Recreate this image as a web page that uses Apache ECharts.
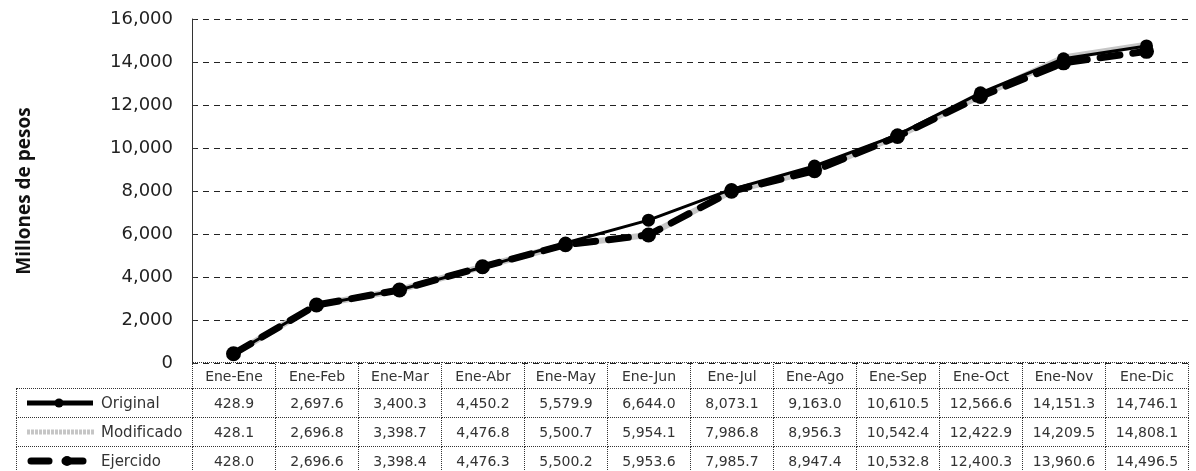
<!DOCTYPE html>
<html lang="es">
  <head>
    <meta charset="utf-8">
    <title>Millones de pesos</title>
    <script src="https://cdn.jsdelivr.net/npm/echarts@6/dist/echarts.min.js"></script>
    <style>
      body { margin: 0; background: #fff; }
      #wrap { position: relative; width: 1196px; height: 471px; overflow: hidden; }
      #chart { position: absolute; left: 0; top: 0; width: 1196px; height: 471px; }
      #tabla { position: absolute; left: 16px; top: 362px; border-collapse: collapse; table-layout: fixed;
               font-family: "DejaVu Sans", sans-serif; font-size: 14px; color: #333; }
      #tabla td { border: 1px dotted #333; text-align: center; padding: 0; white-space: nowrap; overflow: hidden; }
      #tabla tr.head td { height: 25px; }
      #tabla tr.fila td { height: 28px; }
      #tabla td.vacio { border: none; }
      #tabla td.serie { text-align: left; position: relative; font-size: 15px; padding-left: 84px; }
      #tabla td.serie svg { position: absolute; left: 4px; top: 8px; }
    </style>
  </head>
  <body>
    <div id="wrap">
      <div id="chart"></div>
      <table id="tabla"></table>
    </div>

    <script>
        var categorias = ['Ene-Ene', 'Ene-Feb', 'Ene-Mar', 'Ene-Abr', 'Ene-May', 'Ene-Jun',
                          'Ene-Jul', 'Ene-Ago', 'Ene-Sep', 'Ene-Oct', 'Ene-Nov', 'Ene-Dic'];
        var original   = [428.9, 2697.6, 3400.3, 4450.2, 5579.9, 6644.0, 8073.1, 9163.0, 10610.5, 12566.6, 14151.3, 14746.1];
        var modificado = [428.1, 2696.8, 3398.7, 4476.8, 5500.7, 5954.1, 7986.8, 8956.3, 10542.4, 12422.9, 14209.5, 14808.1];
        var ejercido   = [428.0, 2696.6, 3398.4, 4476.3, 5500.2, 5953.6, 7985.7, 8947.4, 10532.8, 12400.3, 13960.6, 14496.5];

        var left = 192, right = 8, colW = (1196 - left - right) / categorias.length;

        var chart = echarts.init(document.getElementById('chart'), null, {renderer: 'canvas'});
        chart.setOption({
            animation: false,
            grid: {left: left, right: right, top: 19, bottom: 108},
            xAxis: {
                type: 'category',
                data: categorias,
                boundaryGap: true,
                axisLine: {show: false},
                axisTick: {show: false},
                axisLabel: {show: false}
            },
            yAxis: {
                type: 'value',
                min: 0, max: 16000, interval: 2000,
                name: 'Millones de pesos',
                nameLocation: 'middle',
                nameGap: 158,
                nameTextStyle: {fontFamily: 'Open Sans', fontWeight: 'bold', fontSize: 19, color: '#111'},
                axisLine: {show: true, lineStyle: {color: '#333', width: 1}},
                axisTick: {show: true, inside: true, length: 4, lineStyle: {color: '#333'}},
                axisLabel: {
                    margin: 19, fontFamily: 'DejaVu Sans', fontSize: 18, color: '#222',
                    formatter: function (v) { return v.toLocaleString('en-US'); }
                },
                splitLine: {show: true, lineStyle: {color: '#222', width: 1, type: [6, 5]}}
            },
            series: [
                {
                    name: 'Modificado', type: 'line', data: modificado, symbol: 'none',
                    lineStyle: {color: '#c6c6c6', width: 6}, z: 1
                },
                {
                    name: 'Original', type: 'line', data: original, symbol: 'circle', symbolSize: 13,
                    itemStyle: {color: '#000'}, lineStyle: {color: '#000', width: 3}, z: 2
                },
                {
                    name: 'Ejercido', type: 'line', data: ejercido, symbol: 'circle', symbolSize: 15,
                    itemStyle: {color: '#000'},
                    lineStyle: {color: '#000', width: 7, type: [20, 13], cap: 'round'}, z: 3
                }
            ]
        });

        function fmt(v) {
            return v.toLocaleString('en-US', {minimumFractionDigits: 1, maximumFractionDigits: 1});
        }

        var claves = {
            'Original': '<svg width="80" height="12"><line x1="6" y1="6" x2="72" y2="6" stroke="#000" stroke-width="5"/><circle cx="38" cy="6" r="4.5" fill="#000"/></svg>',
            'Modificado': '<svg width="80" height="12"><line x1="6" y1="6" x2="74" y2="6" stroke="#c6c6c6" stroke-width="5" stroke-dasharray="3 1"/></svg>',
            'Ejercido': '<svg width="80" height="12"><line x1="10" y1="6" x2="28" y2="6" stroke="#000" stroke-width="7" stroke-linecap="round"/><line x1="44" y1="6" x2="62" y2="6" stroke="#000" stroke-width="7" stroke-linecap="round"/><circle cx="46" cy="6" r="5" fill="#000"/></svg>'
        };

        var html = '<colgroup><col style="width:' + (left - 16) + 'px">';
        for (var i = 0; i < categorias.length; i++) html += '<col style="width:' + colW + 'px">';
        html += '</colgroup><tr class="head"><td class="vacio"></td>';
        for (var i = 0; i < categorias.length; i++) html += '<td>' + categorias[i] + '</td>';
        html += '</tr>';
        var filas = [['Original', original], ['Modificado', modificado], ['Ejercido', ejercido]];
        for (var f = 0; f < filas.length; f++) {
            html += '<tr class="fila"><td class="serie">' + claves[filas[f][0]] + filas[f][0] + '</td>';
            for (var i = 0; i < filas[f][1].length; i++) html += '<td>' + fmt(filas[f][1][i]) + '</td>';
            html += '</tr>';
        }
        document.getElementById('tabla').innerHTML = html;
    </script>
  </body>
</html>
